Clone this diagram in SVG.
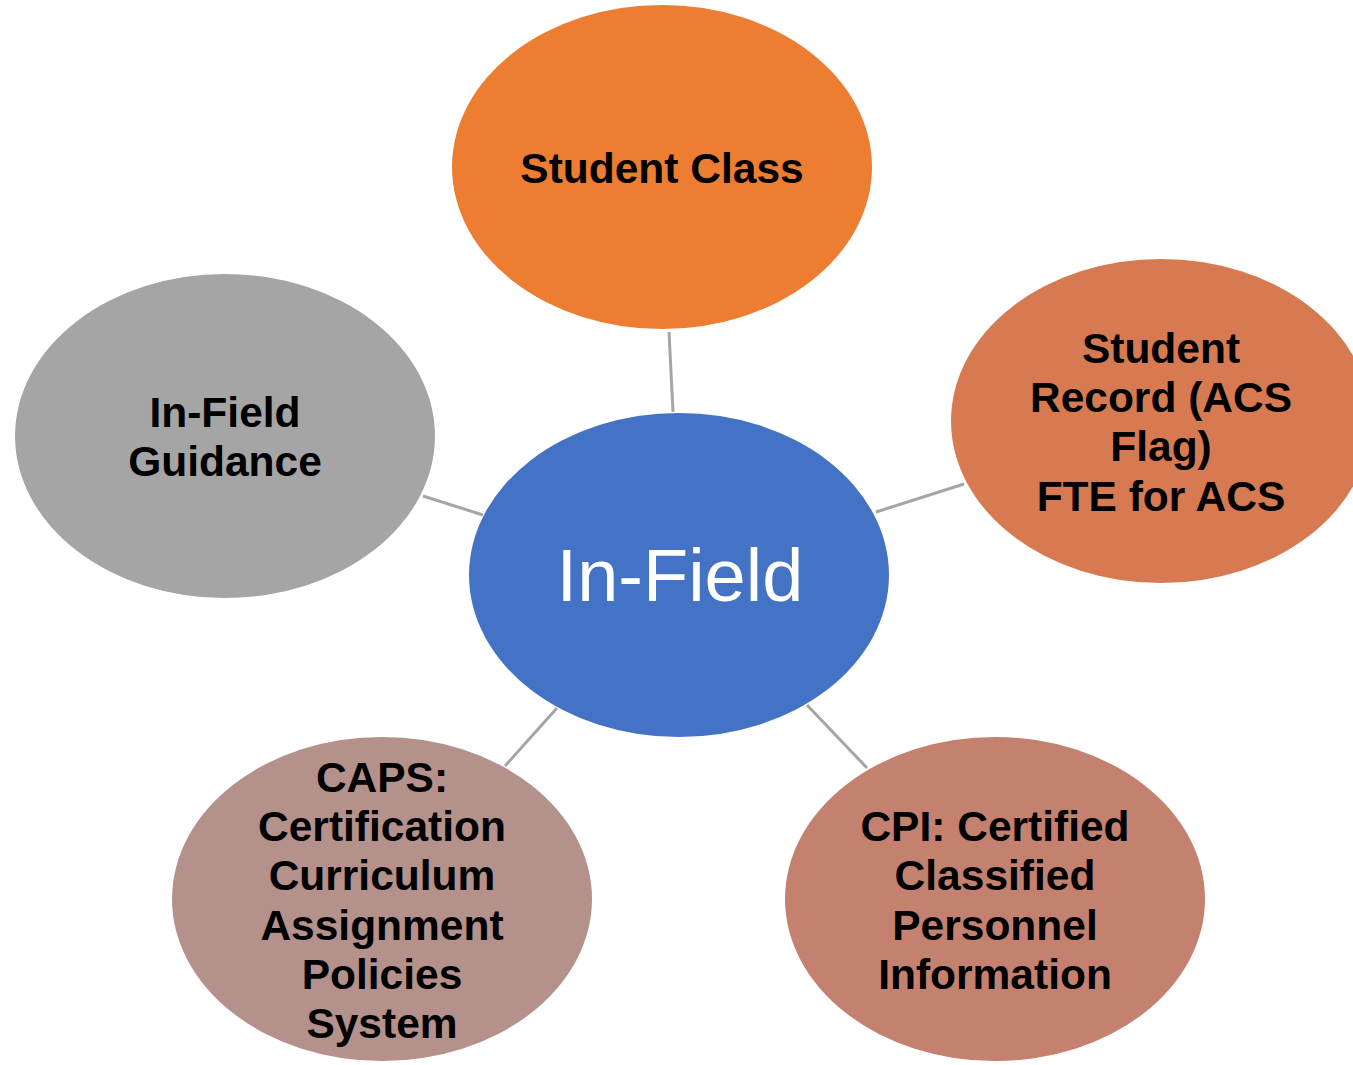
<svg xmlns="http://www.w3.org/2000/svg" width="1353" height="1065" viewBox="0 0 1353 1065">
<style>
.lbl{font-family:"Liberation Sans",Arial,sans-serif;font-weight:bold;font-size:42.5px;fill:#000;text-anchor:middle}
.conn line{stroke:#A5A5A5;stroke-width:3}
</style>
<rect width="1353" height="1065" fill="#fff"/>
<g class="conn" id="connectors">
<line x1="669" y1="332" x2="673" y2="412"/>
<line x1="876" y1="512" x2="964" y2="484"/>
<line x1="423" y1="496" x2="483" y2="515"/>
<line x1="505" y1="766" x2="557" y2="708"/>
<line x1="807" y1="705" x2="867" y2="768"/>
</g>
<g id="center">
<ellipse cx="679" cy="575" rx="210" ry="162" fill="#4472C4"/>
<text x="680" y="601" font-family="Liberation Sans, Arial, sans-serif" font-size="74" fill="#fff" text-anchor="middle">In-Field</text>
</g>
<g id="student-class">
<ellipse cx="662" cy="167" rx="210" ry="162" fill="#ED7D31"/>
<text class="lbl" x="662" y="183">Student Class</text>
</g>
<g id="student-record">
<ellipse cx="1161" cy="421" rx="210" ry="162" fill="#D77A52"/>
<text class="lbl" x="1161" y="363">Student</text>
<text class="lbl" x="1161" y="412">Record (ACS</text>
<text class="lbl" x="1161" y="461">Flag)</text>
<text class="lbl" x="1161" y="511">FTE for ACS</text>
</g>
<g id="in-field-guidance">
<ellipse cx="225" cy="436" rx="210" ry="162" fill="#A5A5A5"/>
<text class="lbl" x="225" y="427">In-Field</text>
<text class="lbl" x="225" y="476">Guidance</text>
</g>
<g id="caps">
<ellipse cx="382" cy="899" rx="210" ry="162" fill="#B4918A"/>
<text class="lbl" x="382" y="792">CAPS:</text>
<text class="lbl" x="382" y="841">Certification</text>
<text class="lbl" x="382" y="890">Curriculum</text>
<text class="lbl" x="382" y="940">Assignment</text>
<text class="lbl" x="382" y="989">Policies</text>
<text class="lbl" x="382" y="1038">System</text>
</g>
<g id="cpi">
<ellipse cx="995" cy="899" rx="210" ry="162" fill="#C5816F"/>
<text class="lbl" x="995" y="841">CPI: Certified</text>
<text class="lbl" x="995" y="890">Classified</text>
<text class="lbl" x="995" y="940">Personnel</text>
<text class="lbl" x="995" y="989">Information</text>
</g>
</svg>
